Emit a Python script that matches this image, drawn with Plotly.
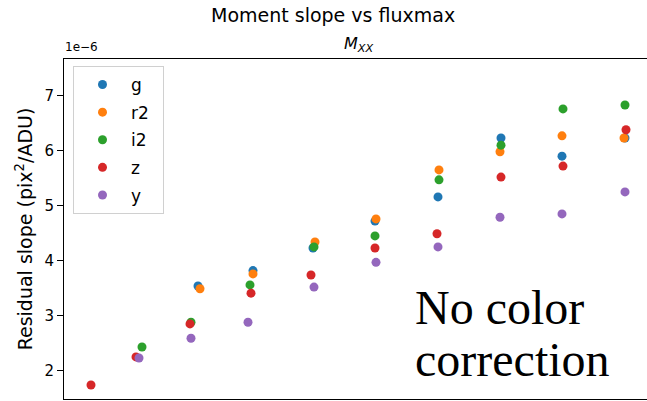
import plotly.graph_objects as go

# Data (residual slope in units of 1e-6 pix^2/ADU; x = fluxmax, arbitrary units)
filters = ["g", "r2", "i2", "z", "y"]
colors = ["#1f77b4", "#ff7f0e", "#2ca02c", "#d62728", "#9467bd"]

g_x = [13.2, 17.6, 22.4, 27.36, 32.4, 37.44, 42.32, 47.36]
g_y = [3.54, 3.82, 4.23, 4.72, 5.16, 6.23, 5.90, 6.23]

r2_x = [13.36, 17.6, 22.56, 27.44, 32.48, 37.36, 42.32, 47.28]
r2_y = [3.49, 3.76, 4.34, 4.76, 5.65, 5.98, 6.27, 6.23]

i2_x = [8.72, 12.64, 17.36, 22.48, 27.36, 32.48, 37.44, 42.4, 47.36]
i2_y = [2.43, 2.88, 3.56, 4.25, 4.45, 5.47, 6.10, 6.76, 6.83]

z_x = [4.64, 8.24, 12.56, 17.44, 22.24, 27.36, 32.32, 37.44, 42.4, 47.44]
z_y = [1.74, 2.25, 2.85, 3.41, 3.74, 4.23, 4.49, 5.52, 5.72, 6.38]

y_x = [8.48, 12.64, 17.2, 22.48, 27.44, 32.4, 37.36, 42.32, 47.36]
y_y = [2.23, 2.59, 2.88, 3.52, 3.97, 4.25, 4.79, 4.85, 5.25]

y_ticks = [2, 3, 4, 5, 6, 7]

series = [(g_x, g_y), (r2_x, r2_y), (i2_x, i2_y), (z_x, z_y), (y_x, y_y)]

W, H = 647, 401
L, T, B, R = 64, 59, 399, 647


def px(xp):
    return (xp - L) / (R - L)


def py(yp):
    return (B - yp) / (B - T)


fig = go.Figure()
for name, col, (xs, ys) in zip(filters, colors, series):
    fig.add_trace(go.Scatter(x=xs, y=ys, mode="markers",
                             name=name + "\u00a0\u2009",
                             legendgroup=name,
                             marker=dict(color=col, size=9, line=dict(width=0))))

fig.update_layout(
    width=W, height=H,
    margin=dict(l=L, r=W - R, t=T, b=H - B, pad=0),
    plot_bgcolor="white", paper_bgcolor="white",
    font=dict(family="DejaVu Sans", color="black"),
    showlegend=True,
    legend=dict(x=px(73), y=py(66), xanchor="left", yanchor="top",
                bgcolor="white", bordercolor="#d0d0d0", borderwidth=1,
                font=dict(size=17, family="DejaVu Sans"),
                itemwidth=47, tracegroupgap=2.5),
    xaxis=dict(range=[2.48, 49.12], showgrid=False, zeroline=False,
               showline=True, linecolor="black", linewidth=1, mirror=True,
               showticklabels=False, ticks=""),
    yaxis=dict(range=[1.485, 7.667], showgrid=False, zeroline=False,
               showline=True, linecolor="black", linewidth=1, mirror=False,
               tickvals=y_ticks, ticks="outside", ticklen=6, tickcolor="black",
               tickfont=dict(size=15, family="DejaVu Sans"),
               title=dict(text="Residual slope (pix<sup>2</sup>/ADU)",
                          font=dict(size=19, family="DejaVu Sans"), standoff=6)),
    annotations=[
        dict(text="Moment slope vs fluxmax", xref="paper", yref="paper",
             x=px(333), y=py(15), xanchor="center", yanchor="middle",
             showarrow=False, font=dict(size=19, family="DejaVu Sans")),
        dict(text="<i>M<sub>XX</sub></i>", xref="paper", yref="paper",
             x=px(358), y=py(45), xanchor="center", yanchor="middle",
             showarrow=False, font=dict(size=16, family="DejaVu Sans")),
        dict(text="1e\u22126", xref="paper", yref="paper",
             x=px(63), y=py(47), xanchor="left", yanchor="middle",
             showarrow=False, font=dict(size=12, family="DejaVu Sans")),
        dict(text="No color", xref="paper", yref="paper",
             x=px(413), y=py(307), xanchor="left", yanchor="middle",
             showarrow=False, font=dict(size=48, family="Liberation Serif")),
        dict(text="correction", xref="paper", yref="paper",
             x=px(413), y=py(359), xanchor="left", yanchor="middle",
             showarrow=False, font=dict(size=48, family="Liberation Serif")),
    ],
)

fig.write_html("out.html")
